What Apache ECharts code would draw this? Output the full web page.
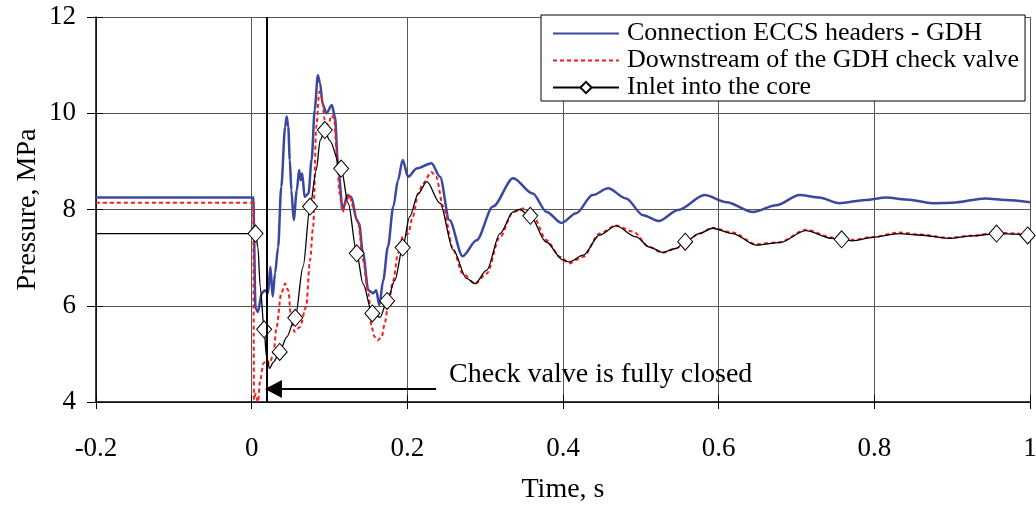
<!DOCTYPE html>
<html>
<head>
<meta charset="utf-8">
<script src="https://cdn.jsdelivr.net/npm/echarts@6/dist/echarts.min.js"></script>
<style>
  html, body { margin: 0; padding: 0; background: #fff; }
  #chart { width: 1036px; height: 506px; }
</style>
</head>
<body>
<div id="chart"></div>
<script>
const FONT = '"Liberation Serif", "Times New Roman", serif'

// Connection ECCS headers - GDH
const headersT = [-0.2, 0.002, 0.005, 0.008, 0.013, 0.017, 0.021, 0.024, 0.027, 0.030, 0.034, 0.038, 0.043, 0.045, 0.047, 0.049, 0.051, 0.054, 0.058, 0.061, 0.063, 0.065, 0.068, 0.073, 0.077, 0.081, 0.085, 0.088, 0.091, 0.096, 0.103, 0.107, 0.111, 0.117, 0.123, 0.128, 0.135, 0.138, 0.143, 0.150, 0.156, 0.160, 0.164, 0.169, 0.175, 0.182, 0.188, 0.194, 0.201, 0.212, 0.231, 0.242, 0.254, 0.271, 0.289, 0.310, 0.336, 0.361, 0.379, 0.398, 0.417, 0.438, 0.458, 0.481, 0.503, 0.523, 0.548, 0.582, 0.610, 0.644, 0.674, 0.704, 0.729, 0.755, 0.789, 0.815, 0.841, 0.875, 0.900, 0.943, 0.969, 1.000]
const headersP = [8.25, 8.25, 5.95, 5.87, 6.26, 6.32, 6.26, 6.81, 6.19, 6.67, 7.22, 8.47, 9.72, 9.93, 9.72, 9.03, 8.40, 7.78, 8.40, 8.82, 8.61, 8.75, 8.26, 8.33, 9.03, 10.07, 10.79, 10.62, 10.20, 10.00, 10.17, 9.93, 8.89, 7.99, 8.30, 8.26, 7.78, 7.71, 7.09, 6.32, 6.26, 6.32, 6.01, 6.53, 7.22, 8.06, 8.61, 9.03, 8.68, 8.85, 8.96, 8.68, 7.78, 7.03, 7.36, 8.06, 8.65, 8.33, 7.95, 7.72, 7.92, 8.30, 8.44, 8.23, 7.88, 7.76, 7.99, 8.30, 8.15, 7.95, 8.09, 8.30, 8.25, 8.13, 8.20, 8.25, 8.21, 8.13, 8.14, 8.23, 8.20, 8.15]

// Downstream of the GDH check valve
const downstreamT = [-0.2, 0.002, 0.003, 0.005, 0.008, 0.011, 0.015, 0.019, 0.023, 0.028, 0.032, 0.038, 0.043, 0.047, 0.051, 0.055, 0.062, 0.070, 0.075, 0.079, 0.083, 0.087, 0.090, 0.094, 0.098, 0.103, 0.106, 0.109, 0.113, 0.117, 0.122, 0.126, 0.130, 0.137, 0.143, 0.150, 0.154, 0.158, 0.162, 0.167, 0.171, 0.175, 0.182, 0.188, 0.194, 0.201, 0.207, 0.214, 0.220, 0.231, 0.237, 0.246, 0.259, 0.271, 0.287, 0.302, 0.319, 0.336, 0.349, 0.361, 0.379, 0.396, 0.408, 0.426, 0.447, 0.468, 0.490, 0.511, 0.528, 0.545, 0.558, 0.575, 0.592, 0.618, 0.648, 0.678, 0.712, 0.746, 0.772, 0.798, 0.832, 0.858, 0.896, 0.926, 0.957, 0.982, 1.000]
const downstreamP = [8.14, 8.14, 4.05, 4.17, 4.00, 4.45, 4.80, 4.87, 4.80, 5.01, 5.56, 6.26, 6.46, 6.32, 5.70, 5.46, 5.56, 5.98, 6.95, 7.64, 9.72, 10.45, 10.34, 9.86, 9.75, 9.96, 9.89, 9.23, 8.33, 7.95, 8.20, 8.30, 8.06, 7.71, 6.95, 6.26, 5.56, 5.35, 5.28, 5.35, 5.63, 5.98, 6.53, 7.09, 7.43, 7.50, 7.85, 8.33, 8.54, 8.78, 8.68, 8.06, 7.16, 6.67, 6.46, 6.67, 7.43, 7.95, 8.02, 7.88, 7.36, 7.02, 6.88, 7.02, 7.50, 7.67, 7.54, 7.22, 7.10, 7.19, 7.33, 7.50, 7.62, 7.52, 7.28, 7.32, 7.58, 7.42, 7.37, 7.43, 7.52, 7.48, 7.41, 7.46, 7.52, 7.50, 7.47]

// Inlet into the core
const inletT = [-0.2, 0.005, 0.008, 0.011, 0.016, 0.019, 0.023, 0.028, 0.036, 0.045, 0.056, 0.066, 0.075, 0.083, 0.088, 0.094, 0.100, 0.115, 0.124, 0.135, 0.143, 0.155, 0.165, 0.174, 0.184, 0.194, 0.203, 0.214, 0.225, 0.242, 0.259, 0.276, 0.287, 0.302, 0.319, 0.336, 0.344, 0.358, 0.378, 0.400, 0.408, 0.426, 0.447, 0.468, 0.494, 0.511, 0.528, 0.545, 0.557, 0.575, 0.592, 0.618, 0.648, 0.678, 0.712, 0.746, 0.758, 0.772, 0.798, 0.832, 0.858, 0.896, 0.926, 0.957, 0.982, 0.997, 1.000]
const inletP = [7.50, 7.50, 7.22, 6.39, 5.51, 4.94, 4.70, 4.83, 5.04, 5.35, 5.75, 6.81, 8.06, 8.82, 9.44, 9.65, 9.44, 8.85, 8.13, 7.09, 6.46, 5.84, 5.76, 6.10, 6.53, 7.21, 7.85, 8.33, 8.58, 8.13, 7.16, 6.57, 6.46, 6.74, 7.50, 7.95, 8.00, 7.87, 7.33, 6.95, 6.91, 7.05, 7.47, 7.66, 7.43, 7.22, 7.11, 7.19, 7.33, 7.50, 7.61, 7.50, 7.26, 7.31, 7.56, 7.40, 7.38, 7.35, 7.42, 7.50, 7.47, 7.40, 7.45, 7.50, 7.49, 7.46, 7.46]
const inletMarkT = [0.005, 0.016, 0.036, 0.056, 0.075, 0.094, 0.115, 0.135, 0.155, 0.174, 0.194, 0.358, 0.557, 0.758, 0.957, 0.997]

// annotation
const valveClosedT = 0.017
const arrowFromT = 0.237
const arrowToT = 0.028
const arrowP = 4.27
const noteT = 0.253
const noteP = 4.56
const noteText = 'Check valve is fully closed'

const xMin = -0.2, xMax = 1, xStep = 0.2
const yMin = 4, yMax = 12, yStep = 2

const pairs = (ts, ps) => ts.map((t, i) => [t, ps[i]])
const inletData = inletT.map((t, i) => inletMarkT.includes(t)
  ? { value: [t, inletP[i]] }
  : { value: [t, inletP[i]], symbol: 'none' })

const tickFmt = v => String(Math.round(v * 10) / 10)

const myChart = echarts.init(document.getElementById('chart'))

const option = {
  animation: false,
  backgroundColor: '#fff',
  textStyle: { fontFamily: FONT, color: '#000' },
  grid: { left: 96, right: 6, top: 17, bottom: 104, outerBoundsMode: 'none' },
  legend: {
    data: [
      // line-only entries: hide the default dot
      { name: 'Connection ECCS headers - GDH', itemStyle: { opacity: 0 } },
      { name: 'Downstream of the GDH check valve', itemStyle: { opacity: 0 } },
      { name: 'Inlet into the core' }
    ],
    orient: 'vertical',
    left: 541,
    top: 15,
    padding: [5, 6, 0, 11],
    itemGap: 0,
    itemWidth: 66,
    itemHeight: 14,
    backgroundColor: '#fff',
    borderColor: '#000',
    borderWidth: 1,
    textStyle: { fontFamily: FONT, fontSize: 26, lineHeight: 27, color: '#000', padding: [0, 0, 0, 3] }
  },
  xAxis: [{
    type: 'value',
    min: xMin, max: xMax, interval: xStep,
    name: 'Time, s',
    nameLocation: 'middle',
    nameGap: 74,
    nameMoveOverlap: false,
    nameTextStyle: { fontFamily: FONT, fontSize: 28, color: '#000' },
    axisLine: { onZero: false, lineStyle: { color: '#000', width: 1.5 } },
    axisTick: { length: 7, lineStyle: { color: '#000' } },
    axisLabel: { margin: 33, fontFamily: FONT, fontSize: 27, color: '#000', formatter: tickFmt },
    splitLine: { show: true, lineStyle: { color: '#555', width: 1 } }
  }, {
    // inner half of the crossing ticks
    type: 'value',
    min: xMin, max: xMax, interval: xStep,
    position: 'top',
    offset: -385,
    axisLine: { show: false, onZero: false },
    axisTick: { length: 7, lineStyle: { color: '#000' } },
    axisLabel: { show: false },
    splitLine: { show: false }
  }],
  yAxis: [{
    type: 'value',
    min: yMin, max: yMax, interval: yStep,
    name: 'Pressure, MPa',
    nameLocation: 'middle',
    nameGap: 54,
    nameMoveOverlap: false,
    nameTextStyle: { fontFamily: FONT, fontSize: 28, color: '#000' },
    axisLine: { show: true, onZero: false, lineStyle: { color: '#000', width: 1.5 } },
    axisTick: { show: true, length: 9, lineStyle: { color: '#000' } },
    axisLabel: { margin: 20, fontFamily: FONT, fontSize: 27, color: '#000' },
    splitLine: { show: true, lineStyle: { color: '#555', width: 1 } }
  }, {
    type: 'value',
    min: yMin, max: yMax, interval: yStep,
    position: 'right',
    offset: -934,
    axisLine: { show: false, onZero: false },
    axisTick: { show: true, length: 7, lineStyle: { color: '#000' } },
    axisLabel: { show: false },
    splitLine: { show: false }
  }],
  series: [
    {
      name: 'Connection ECCS headers - GDH',
      type: 'line',
      data: pairs(headersT, headersP),
      symbol: 'none',
      smooth: 0.3,
      smoothMonotone: 'x',
      color: '#3b48a0',
      lineStyle: { color: '#3b48a0', width: 2.5 }
    },
    {
      name: 'Downstream of the GDH check valve',
      type: 'line',
      data: pairs(downstreamT, downstreamP),
      symbol: 'none',
      smooth: 0.3,
      smoothMonotone: 'x',
      color: '#ff1a1a',
      lineStyle: { color: '#ff1a1a', width: 2, type: [4, 3] }
    },
    {
      name: 'Inlet into the core',
      type: 'line',
      data: inletData,
      symbol: 'diamond',
      symbolSize: [15, 17],
      showSymbol: true,
      showAllSymbol: true,
      smooth: 0.3,
      smoothMonotone: 'x',
      color: '#000',
      lineStyle: { color: '#000', width: 1.3 },
      itemStyle: { color: '#fff', borderColor: '#000', borderWidth: 1 },
      markLine: {
        silent: true,
        symbol: 'none',
        label: { show: false },
        lineStyle: { color: '#000', width: 2, type: 'solid' },
        data: [
          { xAxis: valveClosedT },
          [
            { coord: [arrowFromT, arrowP], symbol: 'none' },
            { coord: [arrowToT, arrowP], symbol: 'triangle', symbolSize: [18, 17] }
          ]
        ]
      },
      markPoint: {
        silent: true,
        symbol: 'circle',
        symbolSize: 1,
        itemStyle: { color: 'rgba(0,0,0,0)' },
        label: {
          show: true, position: 'right', distance: 0,
          formatter: noteText, color: '#000', fontFamily: FONT, fontSize: 28
        },
        data: [{ coord: [noteT, noteP] }]
      }
    }
  ]
}

myChart.setOption(option)
window.addEventListener('resize', () => myChart.resize())
</script>
</body>
</html>
